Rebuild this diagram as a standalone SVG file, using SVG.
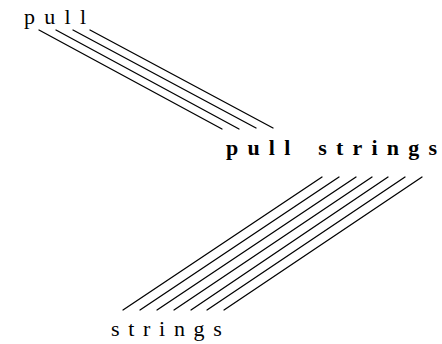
<svg xmlns="http://www.w3.org/2000/svg" width="442" height="344" viewBox="0 0 442 344">
  <style>
    .t { font-family: "Liberation Serif", "Times New Roman", serif; font-size: 22px; fill: #000; }
    .b { font-weight: bold; }
    .c line { stroke: #000; stroke-width: 1.3; stroke-linecap: round; }
  </style>
  <rect width="442" height="344" fill="#fff"/>
  <g id="connectors" class="c">
    <line x1="39" y1="30" x2="222" y2="129"/>
    <line x1="56" y1="30" x2="239" y2="129"/>
    <line x1="73" y1="30" x2="256" y2="128"/>
    <line x1="90" y1="30" x2="273" y2="128"/>
    <line x1="322" y1="177" x2="123" y2="310"/>
    <line x1="339" y1="177" x2="140" y2="310"/>
    <line x1="356" y1="177" x2="157" y2="310"/>
    <line x1="372" y1="177" x2="174" y2="310"/>
    <line x1="388" y1="177" x2="191" y2="310"/>
    <line x1="405" y1="177" x2="207" y2="310"/>
    <line x1="422" y1="177" x2="224" y2="310"/>
  </g>
  <g id="node-pull">
    <text class="t" x="24" y="24" letter-spacing="9.3">pul<tspan letter-spacing="0">l</tspan></text>
  </g>
  <g id="node-pull-strings">
    <text class="t b" x="226" y="155" letter-spacing="9.2" word-spacing="4">pull string<tspan letter-spacing="0">s</tspan></text>
  </g>
  <g id="node-strings">
    <text class="t" x="111" y="336" letter-spacing="8.7">string<tspan letter-spacing="0">s</tspan></text>
  </g>
</svg>
